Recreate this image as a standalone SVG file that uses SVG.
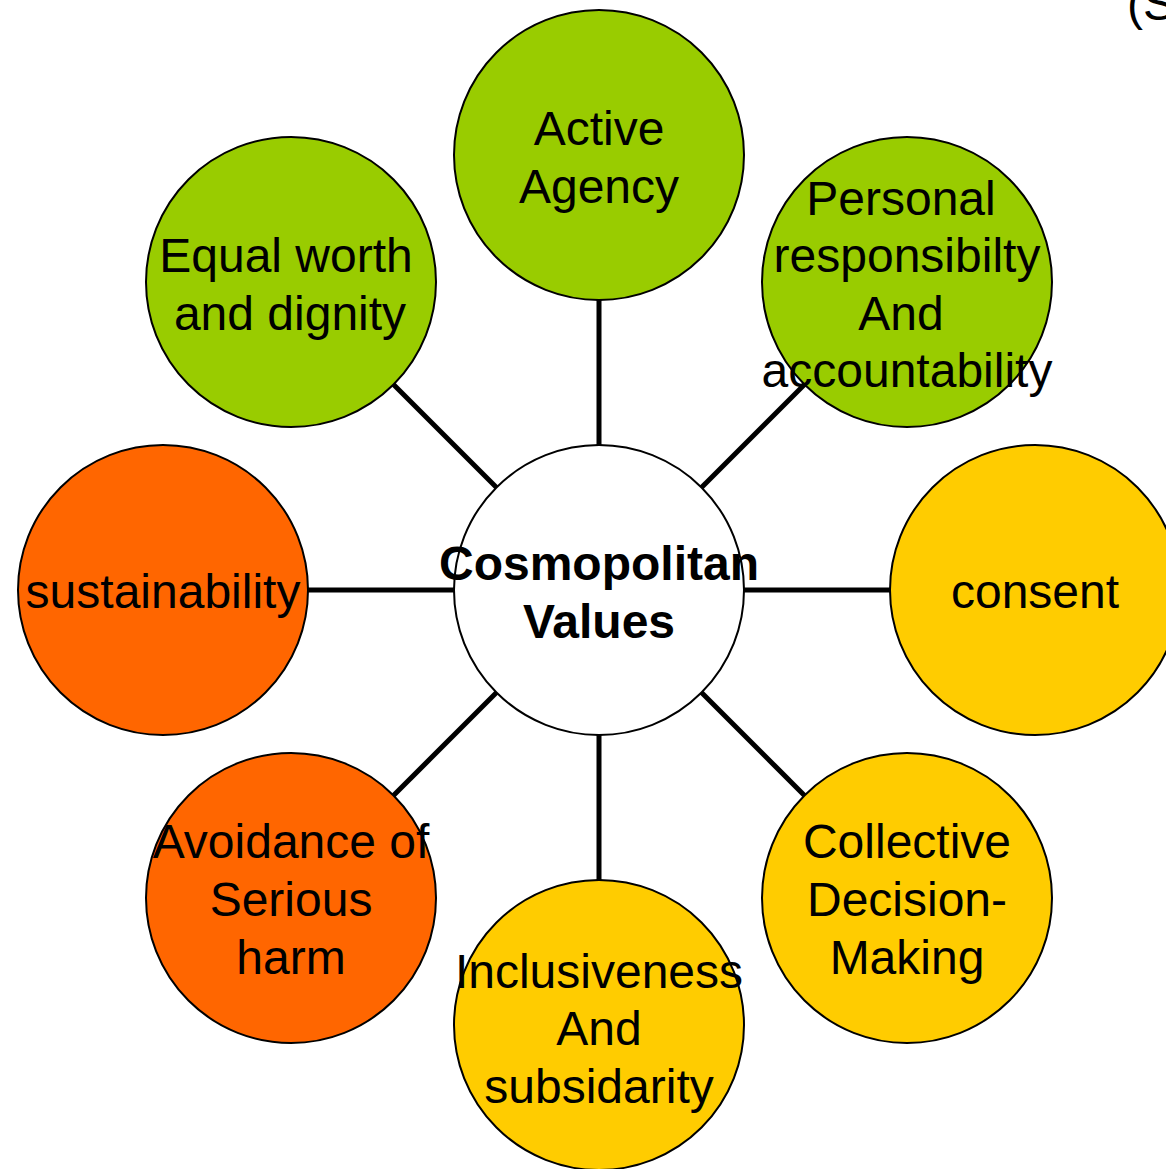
<svg xmlns="http://www.w3.org/2000/svg" width="1166" height="1169" viewBox="0 0 1166 1169">
<style>
.n{stroke:#000;stroke-width:2}
.g{fill:#99CC00}
.o{fill:#FF6600}
.y{fill:#FFCC00}
.w{fill:#FFFFFF}
text{font-family:"Liberation Sans",Arial,sans-serif;font-size:48px;fill:#000;text-anchor:middle}
.b{font-weight:bold}
.c line{stroke:#000;stroke-width:5}
</style>
<rect width="1166" height="1169" fill="#fff"/>
<g class="c" id="connectors">
<line x1="599" y1="590" x2="599" y2="155"/>
<line x1="599" y1="590" x2="291" y2="282"/>
<line x1="599" y1="590" x2="907" y2="282"/>
<line x1="599" y1="590" x2="163" y2="590"/>
<line x1="599" y1="590" x2="1035" y2="590"/>
<line x1="599" y1="590" x2="291" y2="898"/>
<line x1="599" y1="590" x2="907" y2="898"/>
<line x1="599" y1="590" x2="599" y2="1025"/>
</g>
<g id="center"><circle class="n w" cx="599" cy="590" r="145"/><text class="b" x="599" y="580">Cosmopolitan</text><text class="b" x="599" y="638">Values</text></g>
<g id="active"><circle class="n g" cx="599" cy="155" r="145"/><text x="599" y="145">Active</text><text x="599" y="203">Agency</text></g>
<g id="equal"><circle class="n g" cx="291" cy="282" r="145"/><text x="286" y="272">Equal worth</text><text x="290" y="330">and dignity</text></g>
<g id="personal"><circle class="n g" cx="907" cy="282" r="145"/><text x="901" y="215">Personal</text><text x="907" y="272">responsibilty</text><text x="901" y="330">And</text><text x="907" y="387">accountability</text></g>
<g id="sustainability"><circle class="n o" cx="163" cy="590" r="145"/><text x="163" y="608">sustainability</text></g>
<g id="consent"><circle class="n y" cx="1035" cy="590" r="145"/><text x="1035" y="608">consent</text></g>
<g id="avoidance"><circle class="n o" cx="291" cy="898" r="145"/><text x="291" y="858">Avoidance of</text><text x="291" y="916">Serious</text><text x="291" y="974">harm</text></g>
<g id="collective"><circle class="n y" cx="907" cy="898" r="145"/><text x="907" y="858">Collective</text><text x="907" y="916">Decision-</text><text x="907" y="974">Making</text></g>
<g id="inclusiveness"><circle class="n y" cx="599" cy="1025" r="145"/><text x="599" y="988">Inclusiveness</text><text x="599" y="1045">And</text><text x="599" y="1103">subsidarity</text></g>
<text x="1127" y="20" style="text-anchor:start">(S</text>
</svg>
